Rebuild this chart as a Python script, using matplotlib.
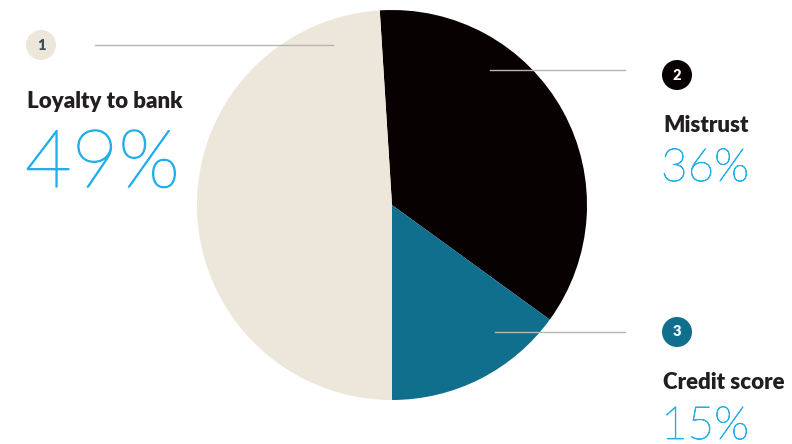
import matplotlib.pyplot as plt
import matplotlib.patheffects as pe
from matplotlib.patches import Circle

# reasons for staying with a bank (share of respondents)
labels = ['Mistrust', 'Credit score', 'Loyalty to bank']
shares = [36, 15, 49]
numbers = ['2', '3', '1']
colors = ['#070102', '#0F6F8D', '#EDE6DA']
num_text = ['white', 'white', '#3A4F5C']

W, H = 792, 444
fig = plt.figure(figsize=(W / 100, H / 100), dpi=100)
ax = fig.add_axes([0, 0, 1, 1])

def Y(y):
    # image-style y (from top) to axes y
    return H - y

# loyalty wedge ends at the bottom, so mistrust starts just left of top
start = 270 - shares[2] * 3.6
ax.pie(shares, colors=colors, startangle=start, counterclock=False,
       center=(392, Y(205)), radius=195, frame=True,
       wedgeprops=dict(linewidth=0))
ax.set_xlim(0, W)
ax.set_ylim(0, H)
ax.set_aspect('equal')
ax.axis('off')

# leader lines
line_col = '#B5B5B5'
ax.plot([95, 333], [Y(45), Y(45)], color=line_col, lw=1)
ax.plot([490, 625], [Y(70), Y(70)], color=line_col, lw=1)
ax.plot([495, 625], [Y(332), Y(332)], color=line_col, lw=1)

# numbered badges and text blocks
badges = {'Loyalty to bank': (41, 45), 'Mistrust': (677, 75), 'Credit score': (677, 332)}
blocks = {'Loyalty to bank': (27, 108, 187, 58, 1.0),
          'Mistrust': (663, 132, 181, 33, 0.6),
          'Credit score': (663, 389, 439, 33, 0.6)}
pct_col = '#22AEEA'
fam = ['Lato', 'DejaVu Sans']

for lab, val, num, col, tcol in zip(labels, shares, numbers, colors, num_text):
    bx, by = badges[lab]
    ax.add_patch(Circle((bx, Y(by)), 15, color=col, lw=0))
    ax.text(bx, Y(by), num, ha='center', va='center', fontsize=10.5,
            fontweight='heavy', color=tcol, family=fam)
    x, yl, yp, fs, sw = blocks[lab]
    ax.text(x, Y(yl), lab, ha='left', va='baseline', fontsize=16,
            fontweight='heavy', color='#231F20', family=fam)
    t = ax.text(x - 2, Y(yp), f'{val}%', ha='left', va='baseline', fontsize=fs,
                fontweight='light', color=pct_col, family=fam)
    # thicken the thin strokes a little
    t.set_path_effects([pe.withStroke(linewidth=sw, foreground=pct_col)])

fig.savefig('out.png', dpi=100, facecolor='white')
